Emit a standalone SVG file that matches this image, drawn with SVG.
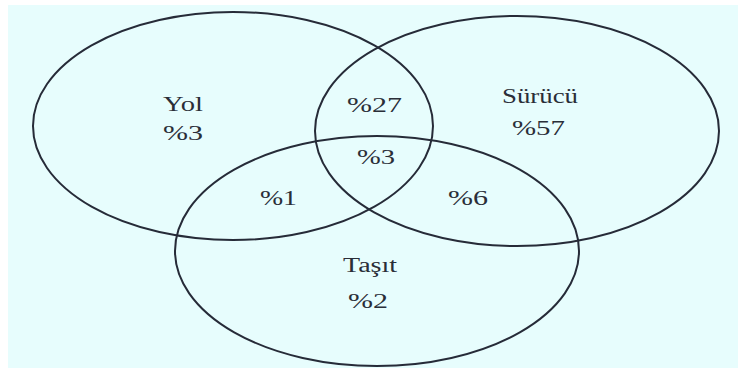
<svg xmlns="http://www.w3.org/2000/svg" width="738" height="368" viewBox="0 0 738 368">
<style>
.c{fill:none;stroke:#262b38;stroke-width:2}
.t{font-family:"Liberation Serif","Times New Roman",serif;font-size:20px;fill:#2a2e38;text-anchor:start}
</style>
<rect x="0" y="0" width="738" height="368" fill="#ffffff"/>
<rect x="8" y="5" width="730" height="363" fill="#e7fdfd"/>
<g id="connectors"></g>
<g id="yol">
<ellipse class="c" cx="233" cy="126" rx="200" ry="114"/>
<text class="t" x="163" y="111" textLength="40" lengthAdjust="spacingAndGlyphs">Yol</text>
<text class="t" x="163" y="140" textLength="40" lengthAdjust="spacingAndGlyphs">%3</text>
</g>
<g id="surucu">
<ellipse class="c" cx="517" cy="131" rx="202" ry="115"/>
<text class="t" x="502" y="103" textLength="76" lengthAdjust="spacingAndGlyphs">Sürücü</text>
<text class="t" x="512" y="135" textLength="53" lengthAdjust="spacingAndGlyphs">%57</text>
</g>
<g id="tasit">
<ellipse class="c" cx="377" cy="251" rx="202" ry="115"/>
<text class="t" x="343" y="272" textLength="54" lengthAdjust="spacingAndGlyphs">Taşıt</text>
<text class="t" x="348" y="308" textLength="40" lengthAdjust="spacingAndGlyphs">%2</text>
</g>
<g id="regions">
<text class="t" x="347" y="112" textLength="55" lengthAdjust="spacingAndGlyphs">%27</text>
<text class="t" x="357" y="164" textLength="38" lengthAdjust="spacingAndGlyphs">%3</text>
<text class="t" x="260" y="205" textLength="37" lengthAdjust="spacingAndGlyphs">%1</text>
<text class="t" x="448" y="205" textLength="40" lengthAdjust="spacingAndGlyphs">%6</text>
</g>
</svg>
